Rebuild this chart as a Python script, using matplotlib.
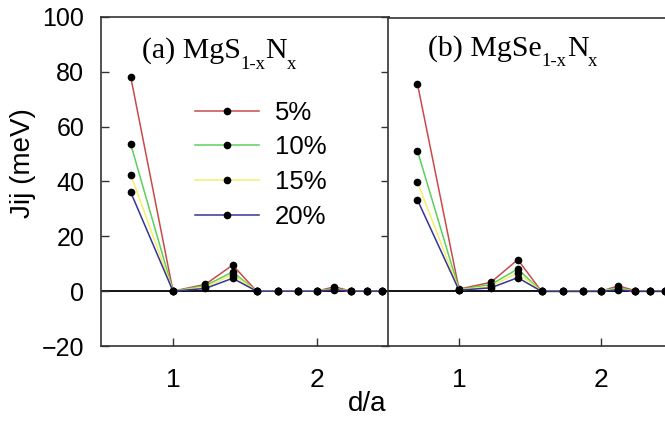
import matplotlib
matplotlib.use("Agg")
import matplotlib.pyplot as plt
from matplotlib.transforms import offset_copy

plt.rcParams["font.family"] = ["Liberation Sans", "DejaVu Sans"]

# neighbour distances d/a (fcc shells)
dist = [0.707, 1.0, 1.225, 1.414, 1.581, 1.732, 1.871, 2.0, 2.121, 2.236, 2.345, 2.449]

labels = ["5%", "10%", "15%", "20%"]
colors = ["#c84a4a", "#5ccf5c", "#f2f06a", "#34349a"]

# exchange couplings Jij (meV), MgS(1-x)N(x)
mgs = [
    [78.0, 0.0, 2.5, 9.5, 0.0, 0.0, 0.0, 0.0, 1.6, 0.0, 0.0, 0.0],
    [53.5, 0.0, 2.0, 7.0, 0.0, 0.0, 0.0, 0.0, 1.0, 0.0, 0.0, 0.0],
    [42.5, 0.0, 1.5, 6.0, 0.0, 0.0, 0.0, 0.0, 0.8, 0.0, 0.0, 0.0],
    [36.0, 0.0, 1.0, 4.7, 0.0, 0.0, 0.0, 0.0, 0.5, 0.0, 0.0, 0.0],
]
# exchange couplings Jij (meV), MgSe(1-x)N(x)
mgse = [
    [76.0, 0.8, 3.3, 11.6, 0.0, 0.0, 0.0, 0.0, 2.0, 0.3, 0.0, 0.0],
    [51.5, 0.6, 2.5, 8.2, 0.0, 0.0, 0.0, 0.0, 1.4, 0.0, 0.0, 0.0],
    [40.0, 0.5, 1.8, 6.8, 0.0, 0.0, 0.0, 0.0, 1.0, 0.0, 0.0, 0.0],
    [33.5, 0.4, 1.3, 5.0, 0.0, 0.0, 0.0, 0.0, 0.6, 0.0, 0.0, 0.0],
]

# panel titles as (text, subscript?) pieces
title_a = [("(a) MgS", False), ("1-x", True), ("N", False), ("x", True)]
title_b = [("(b) MgSe", False), ("1-x", True), ("N", False), ("x", True)]

yticks = [-20, 0, 20, 40, 60, 80, 100]
xticks = [1, 2]

fig = plt.figure(figsize=(6.65, 4.25), dpi=100)
ax_a = fig.add_axes([101 / 665, 79 / 425, 288 / 665, 329 / 425])
ax_b = fig.add_axes([388 / 665, 79 / 425, 284 / 665, 328 / 425])
renderer = fig.canvas.get_renderer()


def formula(ax, x, y, pieces, size=21.5, sub_size=13.5, sub_drop=7.5):
    """Draw a chemical formula with lowered subscripts, piece by piece."""
    dx = 0.0
    for text, is_sub in pieces:
        tr = offset_copy(ax.transAxes, fig=fig, x=dx,
                         y=-sub_drop if is_sub else 0.0, units="points")
        t = ax.text(x, y, text, transform=tr, va="baseline", ha="left",
                    fontsize=sub_size if is_sub else size,
                    family="Liberation Serif")
        dx += t.get_window_extent(renderer).width * 72.0 / fig.dpi


spine_col = "#333333"
for ax, data in ((ax_a, mgs), (ax_b, mgse)):
    ax.axhline(0, color="black", lw=1.3, zorder=1)
    for vals, col, lab in zip(data, colors, labels):
        ax.plot(dist, vals, color=col, lw=1.1, marker="o", ms=4.5,
                mfc="black", mec="black", label=lab, zorder=2)
    ax.set_xlim(0.5, 2.5)
    ax.set_ylim(-20, 100)
    ax.set_xticks(xticks)
    ax.set_yticks(yticks)
    for s in ax.spines.values():
        s.set_color(spine_col)
        s.set_linewidth(1.2)
    ax.tick_params(axis="x", direction="in", length=6, width=1, pad=16,
                   labelsize=19, color=spine_col)

ax_a.tick_params(axis="y", direction="in", length=6, width=1, pad=12,
                 labelsize=18, right=True, color=spine_col)
ax_b.tick_params(axis="y", left=False, labelleft=False)
ax_a.set_ylabel("Jij (meV)", fontsize=20)
ax_a.yaxis.set_label_coords(-0.226, 0.556)

formula(ax_a, 0.141, 0.875, title_a)
formula(ax_b, 0.141, 0.884, title_b)

ax_a.legend(loc="upper left", bbox_to_anchor=(0.326, 0.746), frameon=False,
            fontsize=18.5, handlelength=2.5, handletextpad=0.6,
            labelspacing=0.42, borderpad=0, borderaxespad=0)

fig.text(367 / 665, 1 - 404 / 425, "d/a", fontsize=20, ha="center", va="center")

fig.savefig("out.png", dpi=100)
